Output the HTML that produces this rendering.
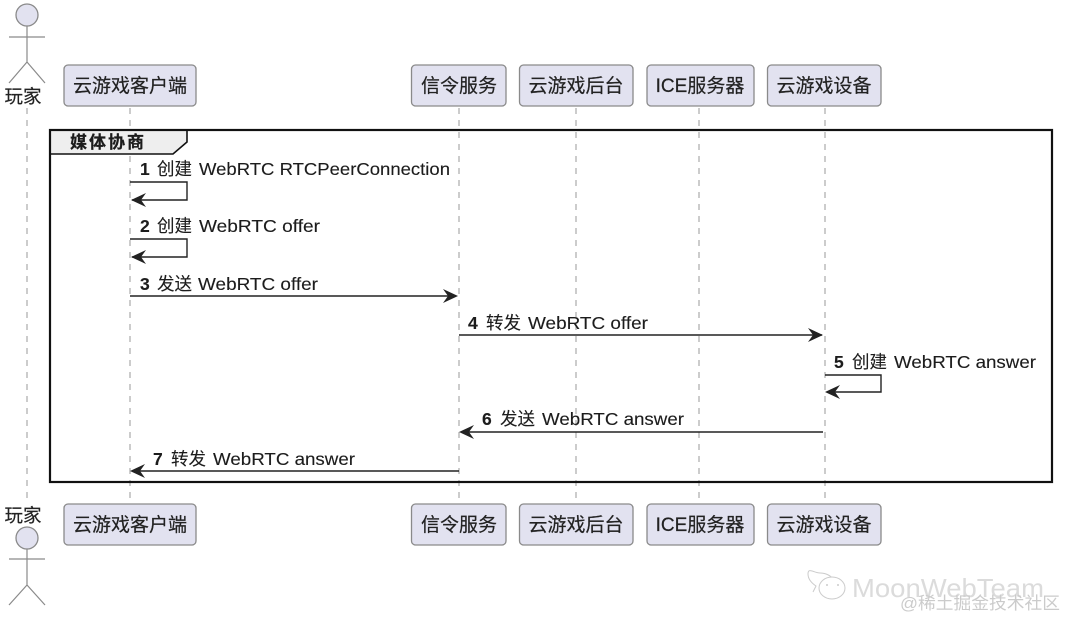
<!DOCTYPE html>
<html><head><meta charset="utf-8">
<style>
html,body{margin:0;padding:0;background:#fff}
svg{display:block}
text{font-family:"Liberation Sans","Noto Sans CJK SC",sans-serif;fill:#1c1c1c}
.b{font-size:19px;text-anchor:middle;fill:#222;stroke:#222;stroke-width:.2}
.m{font-size:17.5px;stroke:#1c1c1c;stroke-width:.12}
.n{font-weight:bold}
.box{fill:#e2e2f0;stroke:#8a8a8a;stroke-width:1.3}
.life{stroke:#a2a2a2;stroke-width:1.1;stroke-dasharray:6 6}
.act{stroke:#8a8a8a;stroke-width:1.2;fill:none}
.ln{stroke:#222;stroke-width:1.4;fill:none}
.ah{fill:#222;stroke:none}
</style></head><body>
<svg width="1080" height="632" viewBox="0 0 1080 632" xmlns="http://www.w3.org/2000/svg">
<rect width="1080" height="632" fill="#fff"/>
<g class="life">
<line x1="27" y1="108" x2="27" y2="504"/>
<line x1="130" y1="108" x2="130" y2="504"/>
<line x1="459" y1="108" x2="459" y2="504"/>
<line x1="576" y1="108" x2="576" y2="504"/>
<line x1="699" y1="108" x2="699" y2="504"/>
<line x1="825" y1="108" x2="825" y2="504"/>
</g>
<!-- top actor -->
<circle cx="27" cy="15" r="11" fill="#e2e2f0" stroke="#8a8a8a" stroke-width="1.3"/>
<path class="act" d="M27 26V62M9 37H45M27 62L9 83M27 62L45 83"/>
<text x="23" y="103" class="b" style="font-size:18.5px">玩家</text>
<!-- bottom actor -->
<text x="23" y="522" class="b" style="font-size:18.5px">玩家</text>
<circle cx="27" cy="538" r="11" fill="#e2e2f0" stroke="#8a8a8a" stroke-width="1.3"/>
<path class="act" d="M27 549V585M9 559H45M27 585L9 605M27 585L45 605"/>
<!-- top boxes -->
<rect class="box" x="64" y="65" width="132" height="41" rx="4"/>
<rect class="box" x="411.500" y="65" width="94.500" height="41" rx="4"/>
<rect class="box" x="519.500" y="65" width="113.500" height="41" rx="4"/>
<rect class="box" x="647" y="65" width="107" height="41" rx="4"/>
<rect class="box" x="767.500" y="65" width="113.500" height="41" rx="4"/>
<text class="b" x="130" y="92">云游戏客户端</text>
<text class="b" x="459" y="92">信令服务</text>
<text class="b" x="576" y="92">云游戏后台</text>
<text class="b" x="700" y="92">ICE服务器</text>
<text class="b" x="824" y="92">云游戏设备</text>
<!-- bottom boxes -->
<rect class="box" x="64" y="504" width="132" height="41" rx="4"/>
<rect class="box" x="411.500" y="504" width="94.500" height="41" rx="4"/>
<rect class="box" x="519.500" y="504" width="113.500" height="41" rx="4"/>
<rect class="box" x="647" y="504" width="107" height="41" rx="4"/>
<rect class="box" x="767.500" y="504" width="113.500" height="41" rx="4"/>
<text class="b" x="130" y="531">云游戏客户端</text>
<text class="b" x="459" y="531">信令服务</text>
<text class="b" x="576" y="531">云游戏后台</text>
<text class="b" x="700" y="531">ICE服务器</text>
<text class="b" x="824" y="531">云游戏设备</text>
<!-- frame -->
<path d="M50 130H187V142L173 154H50Z" fill="#eeeeee"/>
<rect x="50" y="130" width="1002" height="352" fill="none" stroke="#111" stroke-width="2.2"/>
<path d="M50 154H173L187 142V130" fill="none" stroke="#111" stroke-width="1.6"/>
<text x="70" y="148" style="font-size:17px;font-weight:bold;letter-spacing:2px;stroke:#1c1c1c;stroke-width:.25">媒体协商</text>
<!-- 1 -->
<text class="m n" x="140" y="175">1</text><text class="m" x="157" y="175">创建</text><text class="m" x="199" y="175" textLength="251" lengthAdjust="spacingAndGlyphs">WebRTC RTCPeerConnection</text>
<path class="ln" d="M130 182H187V200H132"/>
<path class="ah" d="M131 200L146 193L141 200L146 207Z"/>
<!-- 2 -->
<text class="m n" x="140" y="232">2</text><text class="m" x="157" y="232">创建</text><text class="m" x="199" y="232" textLength="121" lengthAdjust="spacingAndGlyphs">WebRTC offer</text>
<path class="ln" d="M130 239H187V257H132"/>
<path class="ah" d="M131 257L146 250L141 257L146 264Z"/>
<!-- 3 -->
<text class="m n" x="140" y="290">3</text><text class="m" x="157" y="290">发送</text><text class="m" x="198" y="290" textLength="120" lengthAdjust="spacingAndGlyphs">WebRTC offer</text>
<path class="ln" d="M130 296H456"/>
<path class="ah" d="M458 296L443 289L448 296L443 303Z"/>
<!-- 4 -->
<text class="m n" x="468" y="329">4</text><text class="m" x="486" y="329">转发</text><text class="m" x="528" y="329" textLength="120" lengthAdjust="spacingAndGlyphs">WebRTC offer</text>
<path class="ln" d="M459 335H822"/>
<path class="ah" d="M823 335L808 328L813 335L808 342Z"/>
<!-- 5 -->
<text class="m n" x="834" y="368">5</text><text class="m" x="852" y="368">创建</text><text class="m" x="894" y="368" textLength="142" lengthAdjust="spacingAndGlyphs">WebRTC answer</text>
<path class="ln" d="M825 375H881V392H827"/>
<path class="ah" d="M825 392L840 385L835 392L840 399Z"/>
<!-- 6 -->
<text class="m n" x="482" y="425">6</text><text class="m" x="500" y="425">发送</text><text class="m" x="542" y="425" textLength="142" lengthAdjust="spacingAndGlyphs">WebRTC answer</text>
<path class="ln" d="M823 432H461"/>
<path class="ah" d="M459 432L474 425L469 432L474 439Z"/>
<!-- 7 -->
<text class="m n" x="153" y="465">7</text><text class="m" x="171" y="465">转发</text><text class="m" x="213" y="465" textLength="142" lengthAdjust="spacingAndGlyphs">WebRTC answer</text>
<path class="ln" d="M459 471H132"/>
<path class="ah" d="M130 471L145 464L140 471L145 478Z"/>
<!-- watermark -->
<g opacity="0.6">
<g fill="#fff" stroke="#aaa" stroke-width="1">
<path d="M813 592L816 586C810 582 808 578 808 574C808 567 814 573 820 573C826 573 832 576 833 580"/>
<ellipse cx="832" cy="588" rx="13" ry="11"/>
</g>
<circle cx="827" cy="585" r="1" fill="#aaa"/><circle cx="838" cy="585" r="1" fill="#aaa"/>
<text x="852" y="597" style="font-size:26px;fill:#c4c4c4" textLength="192" lengthAdjust="spacingAndGlyphs">MoonWebTeam</text>
<text x="900" y="609" style="font-size:17px;fill:#aaa" textLength="160" lengthAdjust="spacingAndGlyphs">@稀土掘金技术社区</text>
</g>
</svg>
</body></html>
